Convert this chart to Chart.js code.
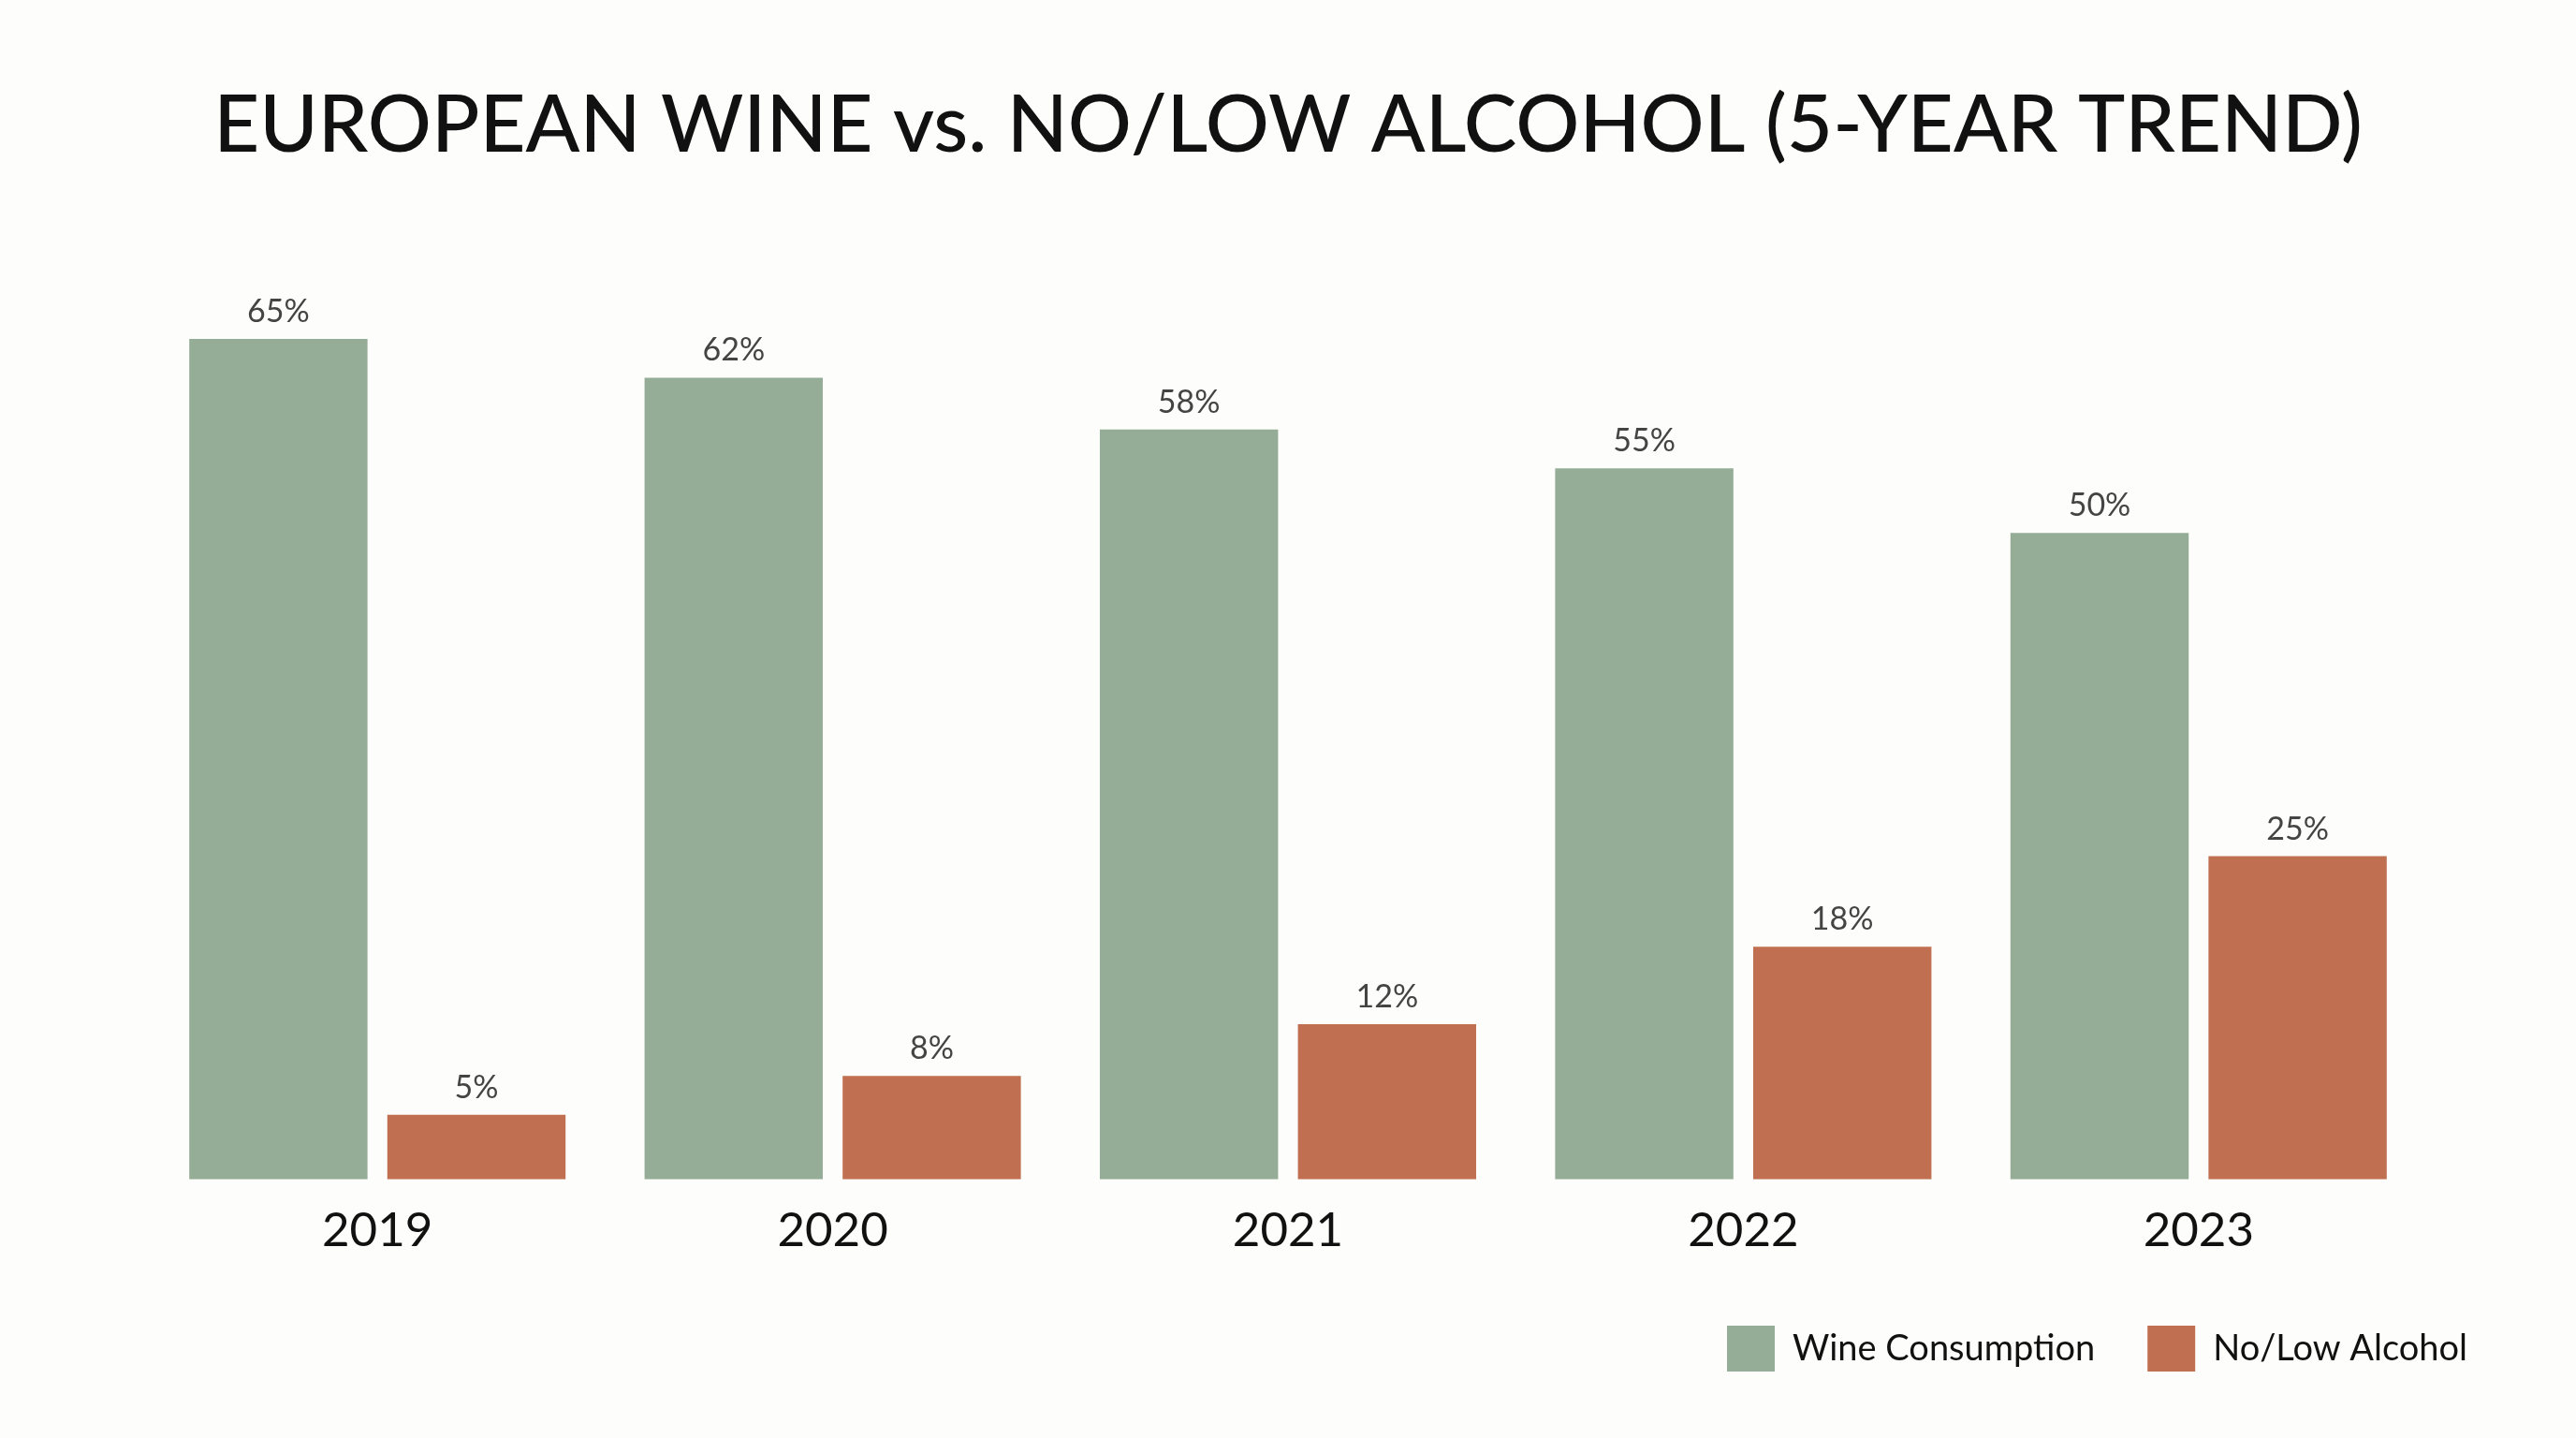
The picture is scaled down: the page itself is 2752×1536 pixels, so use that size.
<!DOCTYPE html>
<html>
<head>
<meta charset="utf-8">
<script src="https://cdn.jsdelivr.net/npm/chart.js@4"></script>
<style>
  html, body { margin: 0; padding: 0; background: #fdfdfb; }
  #wrap { width: 2752px; height: 1536px; }
</style>
</head>
<body>
<div id="wrap"><canvas id="chart" width="2752" height="1536"></canvas></div>
<script>
const years = ["2019", "2020", "2021", "2022", "2023"];
const wine = [65, 62, 58, 55, 50];
const noLow = [5, 8, 12, 18, 25];
const seriesNames = ["Wine Consumption", "No/Low Alcohol"];

const FONT = "Lato, 'Noto Sans', sans-serif";

// draws the "65%" style labels above each bar
const valueLabels = {
  id: "valueLabels",
  afterDatasetsDraw(chart) {
    const ctx = chart.ctx;
    ctx.save();
    ctx.font = "400 34px " + FONT;
    ctx.fillStyle = "#444444";
    ctx.textAlign = "center";
    ctx.textBaseline = "alphabetic";
    chart.data.datasets.forEach((ds, i) => {
      const meta = chart.getDatasetMeta(i);
      meta.data.forEach((bar, j) => {
        ctx.fillText(ds.data[j] + "%", bar.x, bar.y - 18);
      });
    });
    ctx.restore();
  },
};

// empty side axes just to reserve room, keeps the title centred on the page
const spacer = {
  display: true,
  grid: { display: false, drawTicks: false },
  border: { display: false },
  ticks: { display: false },
  afterFit(scale) {
    scale.width = 100;
  },
};

const ctx = document.getElementById("chart");

const myChart = new Chart(ctx, {
  type: "bar",
  data: {
    labels: years,
    datasets: [
      {
        label: seriesNames[0],
        data: wine,
        backgroundColor: "#95ad96",
        borderWidth: 0,
      },
      {
        label: seriesNames[1],
        data: noLow,
        backgroundColor: "#c07050",
        borderWidth: 0,
      },
    ],
  },
  options: {
    responsive: false,
    devicePixelRatio: 1,
    animation: false,
    categoryPercentage: 0.87,
    barPercentage: 0.9,
    layout: {
      padding: { left: 60, right: 60, top: 0, bottom: 61 },
    },
    plugins: {
      title: {
        display: true,
        text: "EUROPEAN WINE vs. NO/LOW ALCOHOL (5-YEAR TREND)",
        color: "#111111",
        font: { family: FONT, size: 85, weight: "500", lineHeight: 1.2 },
        padding: { top: 84, bottom: 107 },
      },
      legend: {
        position: "bottom",
        align: "end",
        labels: {
          boxWidth: 51,
          boxHeight: 49,
          padding: 56,
          color: "#111111",
          font: { family: FONT, size: 38 },
        },
      },
      tooltip: { enabled: false },
    },
    scales: {
      x: {
        grid: { display: false, drawTicks: false },
        border: { display: false },
        ticks: {
          color: "#111111",
          padding: 24,
          font: { family: FONT, size: 51 },
        },
        afterFit(scale) {
          scale.height -= 9;
        },
      },
      y: Object.assign({}, spacer, { position: "left", min: 0, max: 70 }),
      y2: Object.assign({}, spacer, { position: "right", min: 0, max: 70 }),
    },
  },
  plugins: [valueLabels],
});
</script>
</body>
</html>
